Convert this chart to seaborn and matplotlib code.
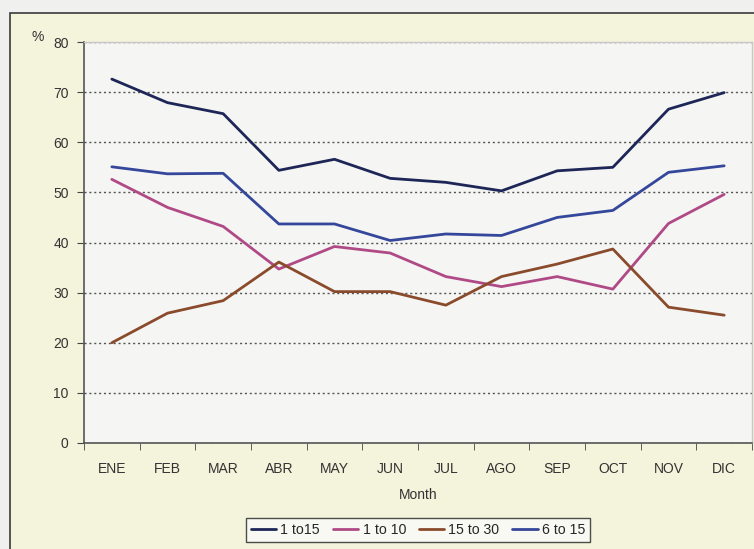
import numpy as np
import pandas as pd
import matplotlib
matplotlib.use("Agg")
import matplotlib.pyplot as plt
from matplotlib.patches import Rectangle
from matplotlib.ticker import FixedLocator
import seaborn as sns

months = ["ENE", "FEB", "MAR", "ABR", "MAY", "JUN", "JUL", "AGO", "SEP", "OCT", "NOV", "DIC"]
series_names = ["1 to15", "1 to 10", "15 to 30", "6 to 15"]
s_1_to_15 = [72.6, 67.9, 65.7, 54.4, 56.6, 52.8, 52.0, 50.3, 54.3, 55.0, 66.6, 69.9]
s_1_to_10 = [52.6, 47.0, 43.2, 34.7, 39.2, 37.9, 33.2, 31.2, 33.2, 30.7, 43.8, 49.6]
s_15_to_30 = [20.0, 25.9, 28.4, 36.1, 30.2, 30.2, 27.5, 33.2, 35.7, 38.7, 27.1, 25.5]
s_6_to_15 = [55.1, 53.7, 53.8, 43.7, 43.7, 40.4, 41.7, 41.4, 45.0, 46.4, 54.0, 55.3]
y_ticks = [0, 10, 20, 30, 40, 50, 60, 70, 80]

colors = ["#1d2657", "#b04a86", "#8a4b2c", "#34479a"]

values = [s_1_to_15, s_1_to_10, s_15_to_30, s_6_to_15]
df = pd.DataFrame({
    "pos": np.tile(np.arange(len(months)), len(series_names)),
    "value": np.concatenate(values),
    "series": np.repeat(series_names, len(months)),
})

sns.set_style("white")
plt.rcParams["font.family"] = ["Liberation Sans", "DejaVu Sans"]

fig = plt.figure(figsize=(7.54, 5.49), dpi=100)
fig.patch.set_facecolor("#f0f0ee")

# chart area
chart_bg = Rectangle((10 / 754, -0.01), 1.0, 1 - 13 / 549 + 0.01,
                     transform=fig.transFigure, facecolor="#f4f3db",
                     edgecolor="#3a3a3a", linewidth=1.2, zorder=-10)
fig.add_artist(chart_bg)

ax = fig.add_axes([84 / 754, 1 - 443 / 549, (752 - 84) / 754, (443 - 42) / 549])
ax.set_zorder(1)
ax.set_facecolor("#f5f5f3")

sns.lineplot(data=df, x="pos", y="value", hue="series", hue_order=series_names,
             palette=colors, linewidth=2.0, sort=False, ax=ax, legend=True)

ax.set_xlim(-0.5, len(months) - 0.5)
ax.set_ylim(0, 80)
ax.set_yticks(y_ticks)
ax.set_xticks(range(len(months)))
ax.set_xticklabels(months)
ax.xaxis.set_minor_locator(FixedLocator(np.arange(-0.5, len(months), 1.0)))
ax.tick_params(axis="x", which="major", length=0, pad=14, labelsize=10, colors="#333333")
ax.tick_params(axis="x", which="minor", length=5, direction="out", color="#444444", bottom=True)
ax.tick_params(axis="y", which="major", length=5, direction="out", color="#444444",
               left=True, labelsize=10, labelcolor="#333333", pad=6)

ax.yaxis.grid(True, linestyle=(0, (1.5, 2)), color="#555555", linewidth=1.0)
ax.xaxis.grid(False)
ax.set_axisbelow(True)

for side in ["left", "bottom"]:
    ax.spines[side].set_color("#555555")
    ax.spines[side].set_linewidth(1.2)
for side in ["top", "right"]:
    ax.spines[side].set_visible(True)
    ax.spines[side].set_color("#c8c8c8")
    ax.spines[side].set_linewidth(1.0)

ax.set_xlabel("Month", fontsize=10, color="#333333", labelpad=8)
ax.set_ylabel("")
fig.text(38 / 754, 1 - 37 / 549, "%", fontsize=10, color="#333333", ha="center", va="center")

handles, labels = ax.get_legend_handles_labels()
ax.legend_.remove()
leg = fig.legend(handles, labels, loc="center", bbox_to_anchor=(418 / 754, 1 - 530 / 549),
                 ncol=4, frameon=True, fancybox=False, fontsize=10.2, handlelength=1.8,
                 handletextpad=0.3, columnspacing=0.9, borderpad=0.35, edgecolor="#222222")
leg.get_frame().set_facecolor("#fbfbfb")
leg.get_frame().set_linewidth(1.0)

fig.savefig("out.png", dpi=100, facecolor=fig.get_facecolor())
